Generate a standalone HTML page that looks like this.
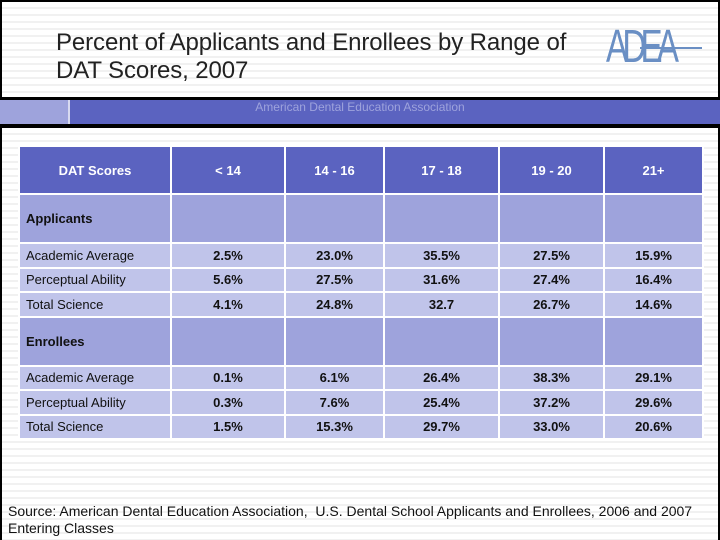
<!DOCTYPE html>
<html><head><meta charset="utf-8"><style>
*{margin:0;padding:0;box-sizing:border-box}
body{width:720px;height:540px;overflow:hidden;background:#fff;font-family:"Liberation Sans",sans-serif;position:relative}
#frame{position:absolute;left:0;top:0;width:720px;height:540px;border:2px solid #000;border-bottom:none;
background:repeating-linear-gradient(#fff 0 5px,#f1f1f1 5px 7px)}
#title{position:absolute;left:56px;top:29px;font-size:24px;line-height:28px;color:#222;letter-spacing:-0.1px}
#logo{position:absolute;left:606px;top:19px;font-size:46px;color:#6a8fc4;letter-spacing:-8px;transform:scaleX(.72);transform-origin:left}
#logo-line{position:absolute;left:640px;top:47px;width:62px;height:2px;background:#6a8fc4}
.bar{position:absolute;left:0;width:720px;background:#000}
#band{position:absolute;left:0;top:100px;width:720px;height:24px;background:#5b63c0}
#band-left{position:absolute;left:0;top:100px;width:70px;height:24px;background:#9ea3dc;border-right:2px solid #d8daf0}
#band-text{position:absolute;left:0;width:720px;top:100px;text-align:center;font-size:12px;color:#9ea3dc}
table{position:absolute;left:18px;top:145px;border-collapse:collapse}
td{border:2px solid #fff;font-size:13px;color:#111}
.h td{background:#5b63c0;color:#fff;font-weight:bold;text-align:center;height:48px}
.s td{background:#9ea3dc;height:49px;font-weight:bold}
.r td{background:#c0c4ea;height:24.5px;text-align:center;font-weight:bold}
.r td:first-child{text-align:left;font-weight:normal;padding-left:6px}
.s td:first-child{padding-left:6px}
#source{position:absolute;left:8px;top:503px;font-size:14px;line-height:17px;color:#111}
</style></head><body>
<div id="frame"></div>
<div id="title">Percent of Applicants and Enrollees by Range of<br>DAT Scores, 2007</div>
<div id="logo">ADEA</div>
<div id="logo-line"></div>
<div class="bar" style="top:97px;height:3px"></div>
<div id="band"></div>
<div id="band-left"></div>
<div id="band-text">American Dental Education Association</div>
<div class="bar" style="top:124px;height:4px"></div>
<table>
<colgroup><col style="width:152px"><col style="width:114px"><col style="width:99px"><col style="width:115px"><col style="width:105px"><col style="width:99px"></colgroup>
<tr class="h"><td>DAT Scores</td><td>&lt; 14</td><td>14 - 16</td><td>17 - 18</td><td>19 - 20</td><td>21+</td></tr>
<tr class="s"><td>Applicants</td><td></td><td></td><td></td><td></td><td></td></tr>
<tr class="r"><td>Academic Average</td><td>2.5%</td><td>23.0%</td><td>35.5%</td><td>27.5%</td><td>15.9%</td></tr>
<tr class="r"><td>Perceptual Ability</td><td>5.6%</td><td>27.5%</td><td>31.6%</td><td>27.4%</td><td>16.4%</td></tr>
<tr class="r"><td>Total Science</td><td>4.1%</td><td>24.8%</td><td>32.7</td><td>26.7%</td><td>14.6%</td></tr>
<tr class="s"><td>Enrollees</td><td></td><td></td><td></td><td></td><td></td></tr>
<tr class="r"><td>Academic Average</td><td>0.1%</td><td>6.1%</td><td>26.4%</td><td>38.3%</td><td>29.1%</td></tr>
<tr class="r"><td>Perceptual Ability</td><td>0.3%</td><td>7.6%</td><td>25.4%</td><td>37.2%</td><td>29.6%</td></tr>
<tr class="r"><td>Total Science</td><td>1.5%</td><td>15.3%</td><td>29.7%</td><td>33.0%</td><td>20.6%</td></tr>
</table>
<div id="source">Source: American Dental Education Association,&nbsp; U.S. Dental School Applicants and Enrollees, 2006 and 2007<br>Entering Classes</div>
</body></html>
